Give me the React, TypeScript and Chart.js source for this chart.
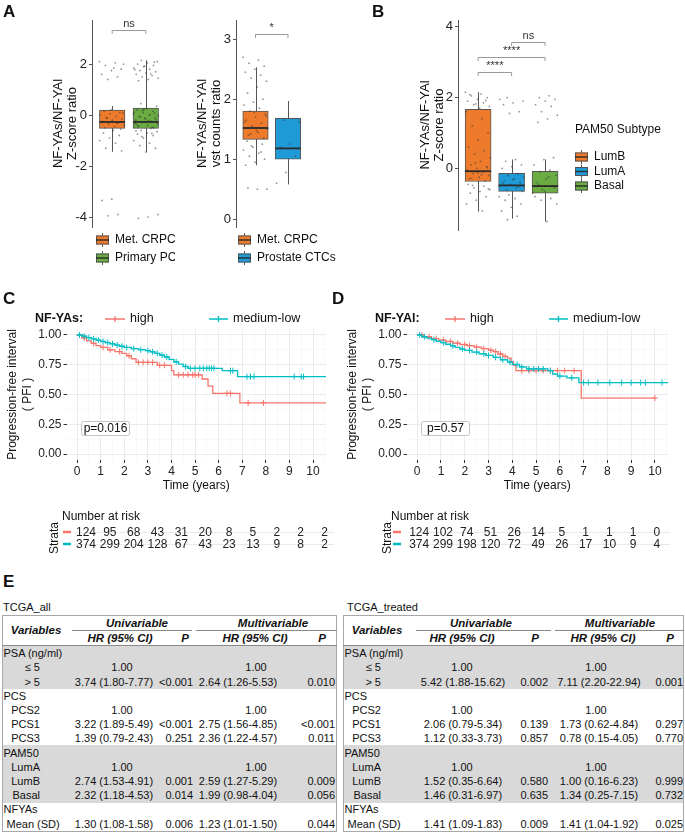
import React, { useEffect, useRef } from "react";
import { Chart, registerables } from "chart.js";

Chart.register(...registerables);

const FONT = "'Liberation Sans', Arial, Helvetica, sans-serif";
const ORANGE = "#EE7B2C";
const GREEN = "#6AAB42";
const BLUE = "#1E9BD7";
const KM_RED = "#F8766D";
const KM_CYAN = "#00BFC4";

// ---------------- Panel A (left): Z-score ratio ----------------
const A1_GROUPS = ["Met. CRPC", "Primary PC"];
const A1_LOW = [-1.44, -1.44];
const A1_Q1 = [-0.52, -0.52];
const A1_MED = [-0.27, -0.27];
const A1_Q3 = [0.2, 0.27];
const A1_HIGH = [0.35, 2.15];
const A1_TICKS = [-4, -2, 0, 2];
const A1_PTS_MET = [2.1, 2.05, 1.95, 1.8, 1.75, 1.6, 1.5, 1.4, 2.0, 1.85, 0.15, 0.1, 0.05, 0, -0.05, -0.1, -0.15, -0.2, -0.25, -0.3, -0.35, -0.4, -0.45, -0.5, -0.55, 0.2, -0.28, -0.33, -0.12, 0.08, -0.6, -0.7, -0.8, -0.9, -1.0, -1.1, -1.3, -1.4, -3.3, -3.35, -3.9, -3.95];
const A1_PTS_PRIM = [2.15, 2.1, 2.05, 2.0, 1.95, 1.9, 1.85, 1.8, 1.75, 1.7, 1.65, 1.6, 1.55, 1.5, 1.45, 1.4, 1.35, 2.08, 1.92, 1.78, 1.62, 0.45, 0.35, 0.25, 0.2, 0.15, 0.1, 0.05, 0, -0.05, -0.1, -0.15, -0.2, -0.25, -0.3, -0.35, -0.4, -0.45, -0.5, 0.22, 0.12, 0.02, -0.08, -0.18, -0.28, -0.38, -0.48, 0.18, -0.02, -0.22, -0.42, 0.08, -0.12, -0.32, -0.52, -0.6, -0.65, -0.7, -0.75, -0.8, -0.9, -1.0, -1.1, -1.2, -1.3, -1.45, -0.62, -0.72, -0.85, -3.9, -4.0, -4.05];

// ---------------- Panel A (right): vst counts ratio ----------------
const A2_GROUPS = ["Met. CRPC", "Prostate CTCs"];
const A2_LOW = [0.9, 0.58];
const A2_Q1 = [1.33, 1.0];
const A2_MED = [1.52, 1.18];
const A2_Q3 = [1.8, 1.68];
const A2_HIGH = [2.53, 1.97];
const A2_TICKS = [0, 1, 2, 3];
const A2_PTS_MET = [2.7, 2.65, 2.6, 2.55, 2.5, 2.45, 2.4, 2.35, 2.3, 2.2, 2.1, 2.0, 1.95, 1.9, 1.85, 1.8, 1.75, 1.7, 1.65, 1.6, 1.55, 1.5, 1.45, 1.4, 1.35, 1.78, 1.62, 1.52, 1.42, 1.72, 1.48, 1.3, 1.25, 1.2, 1.15, 1.1, 1.05, 1.0, 0.95, 0.9, 1.12, 1.22, 0.5, 0.5, 0.52];
const A2_PTS_CTC = [1.65, 1.62, 1.25, 1.2, 1.05, 0.78, 0.6];

// ---------------- Panel B: PAM50 subtype ----------------
const B_GROUPS = ["LumB", "LumA", "Basal"];
const B_LOW = [-1.22, -1.42, -1.5];
const B_Q1 = [-0.37, -0.65, -0.7];
const B_MED = [-0.08, -0.48, -0.5];
const B_Q3 = [1.67, -0.14, -0.08];
const B_HIGH = [2.15, 0.25, 0.25];
const B_TICKS = [0, 2, 4];
const B_PTS_LUMB = [2.15, 2.1, 2.05, 2.0, 1.95, 1.9, 1.85, 1.8, 1.75, 1.7, 2.08, 1.92, 1.82, 1.6, 1.4, 1.2, 1.0, 0.8, 0.6, 0.5, 0.4, 0.3, 0.2, 0.1, 0.05, 0, -0.05, -0.1, -0.15, -0.2, -0.25, -0.3, -0.35, 0.15, -0.08, -0.18, -0.28, 0.02, -0.12, -0.45, -0.5, -0.55, -0.6, -0.65, -0.7, -0.8, -0.9, -1.0, -1.2, -0.48, -0.58];
const B_PTS_LUMA = [2.0, 1.9, 1.85, 1.8, 1.6, 1.55, 1.95, 0.25, 0.2, 0.1, 0.05, 0, -0.15, -0.2, -0.25, -0.3, -0.35, -0.4, -0.45, -0.5, -0.55, -0.6, -0.65, -0.32, -0.42, -0.52, -0.75, -0.8, -0.85, -0.9, -1.0, -1.1, -1.2, -1.35, -1.45];
const B_PTS_BASAL = [2.05, 2.0, 1.95, 1.9, 1.8, 1.75, 1.6, 1.5, 1.4, 1.3, 0.3, 0.25, 0.1, -0.05, -0.1, -0.2, -0.3, -0.4, -0.5, -0.6, -0.7, -0.25, -0.45, -0.55, -0.65, -0.8, -0.85, -0.9, -1.0, -1.5];

// ---------------- Panels C / D: Kaplan-Meier ----------------
const KM_X_MAJOR = [0, 1, 2, 3, 4, 5, 6, 7, 8, 9, 10];
const KM_X_MINOR = [0.5, 1.5, 2.5, 3.5, 4.5, 5.5, 6.5, 7.5, 8.5, 9.5, 10.5];
const KM_Y_MAJOR = [0, 0.25, 0.5, 0.75, 1];
const KM_Y_MINOR = [0.125, 0.375, 0.625, 0.875];

const C_HIGH_T = [0, 0.2, 0.4, 0.6, 0.8, 1.0, 1.3, 1.6, 1.9, 2.1, 2.3, 2.5, 3.4, 4.0, 4.1, 5.3, 5.55, 5.75, 6.9, 10.55];
const C_HIGH_S = [1, 0.975, 0.95, 0.93, 0.91, 0.895, 0.875, 0.86, 0.845, 0.825, 0.8, 0.77, 0.745, 0.7, 0.665, 0.63, 0.57, 0.51, 0.43, 0.43];
const C_HIGH_CENS = [0.1, 0.3, 0.7, 1.1, 1.4, 1.8, 2.2, 2.6, 2.8, 3.0, 3.2, 3.5, 3.7, 4.3, 4.5, 4.7, 4.9, 5.0, 5.15, 6.35, 6.5, 7.25, 7.9];
const C_LOW_T = [0, 0.2, 0.4, 0.6, 0.8, 1.0, 1.2, 1.4, 1.6, 1.8, 2.0, 2.3, 2.6, 2.9, 3.1, 3.3, 3.5, 3.7, 3.9, 4.1, 4.3, 4.5, 4.7, 6.15, 6.8, 10.55];
const C_LOW_S = [1, 0.99, 0.978, 0.967, 0.956, 0.945, 0.935, 0.925, 0.915, 0.905, 0.895, 0.885, 0.876, 0.868, 0.858, 0.845, 0.83, 0.815, 0.795, 0.775, 0.755, 0.735, 0.72, 0.7, 0.65, 0.65];
const C_LOW_CENS = [0.1, 0.3, 0.5, 0.7, 0.9, 1.1, 1.3, 1.5, 1.7, 1.9, 2.1, 2.4, 2.7, 3.0, 3.2, 3.4, 3.6, 3.8, 4.2, 4.6, 4.8, 5.0, 5.2, 5.35, 5.5, 5.6, 5.7, 5.8, 6.5, 6.6, 7.2, 7.35, 7.5, 9.2, 9.5, 9.6];
const C_RISK_HIGH = [124, 95, 68, 43, 31, 20, 8, 5, 2, 2, 2];
const C_RISK_LOW = [374, 299, 204, 128, 67, 43, 23, 13, 9, 8, 2];
const C_PVAL = "p=0.016";

const D_HIGH_T = [0, 0.3, 0.6, 0.9, 1.2, 1.5, 1.8, 2.1, 2.4, 2.7, 3.0, 3.2, 3.4, 3.6, 3.8, 3.95, 4.05, 4.15, 6.9, 10.0];
const D_HIGH_S = [1, 0.985, 0.97, 0.957, 0.945, 0.932, 0.92, 0.91, 0.897, 0.885, 0.872, 0.86, 0.84, 0.82, 0.805, 0.775, 0.745, 0.7, 0.47, 0.47];
const D_HIGH_CENS = [0.2, 0.5, 0.8, 1.1, 1.4, 1.7, 2.0, 2.2, 2.5, 2.8, 3.1, 3.3, 3.5, 3.7, 4.4, 4.7, 5.0, 5.3, 5.6, 5.9, 6.2, 6.6, 10.0];
const D_LOW_T = [0, 0.2, 0.4, 0.6, 0.8, 1.0, 1.2, 1.4, 1.6, 1.8, 2.0, 2.3, 2.6, 2.9, 3.2, 3.5, 3.8, 4.0, 4.3, 4.6, 5.5, 5.7, 5.9, 6.3, 6.8, 10.55];
const D_LOW_S = [1, 0.985, 0.973, 0.96, 0.947, 0.935, 0.922, 0.908, 0.895, 0.882, 0.87, 0.856, 0.842, 0.828, 0.812, 0.792, 0.772, 0.752, 0.732, 0.715, 0.7, 0.672, 0.655, 0.64, 0.6, 0.6];
const D_LOW_CENS = [0.1, 0.3, 0.7, 1.1, 1.5, 1.9, 2.2, 2.5, 2.8, 3.0, 3.3, 3.6, 3.9, 4.2, 4.4, 4.7, 4.9, 5.1, 5.3, 5.6, 6.0, 6.5, 7.0, 7.2, 7.6, 8.1, 8.6, 9.0, 9.4, 9.6, 10.3];
const D_RISK_HIGH = [124, 102, 74, 51, 26, 14, 5, 1, 1, 1, 0];
const D_RISK_LOW = [374, 299, 198, 120, 72, 49, 26, 17, 10, 9, 4];
const D_PVAL = "p=0.57";

// ---------------- Panel E: tables ----------------
const TBL_LABELS = ["PSA (ng/ml)", "\u2264 5", "> 5", "PCS", "PCS2", "PCS1", "PCS3", "PAM50", "LumA", "LumB", "Basal", "NFYAs", "Mean (SD)"];
const TBL_KIND = ["g", "s", "s", "g", "s", "s", "s", "g", "s", "s", "s", "g", "m"];
const TBL_SHADE = [1, 1, 1, 0, 0, 0, 0, 1, 1, 1, 1, 0, 0];

const ALL_UNI_HR = ["", "1.00", "3.74 (1.80-7.77)", "", "1.00", "3.22 (1.89-5.49)", "1.39 (0.79-2.43)", "", "1.00", "2.74 (1.53-4.91)", "2.32 (1.18-4.53)", "", "1.30 (1.08-1.58)"];
const ALL_UNI_P = ["", "", "<0.001", "", "", "<0.001", "0.251", "", "", "0.001", "0.014", "", "0.006"];
const ALL_MULTI_HR = ["", "1.00", "2.64 (1.26-5.53)", "", "1.00", "2.75 (1.56-4.85)", "2.36 (1.22-4.57)", "", "1.00", "2.59 (1.27-5.29)", "1.99 (0.98-4.04)", "", "1.23 (1.01-1.50)"];
const ALL_MULTI_P = ["", "", "0.010", "", "", "<0.001", "0.011", "", "", "0.009", "0.056", "", "0.044"];

const TR_UNI_HR = ["", "1.00", "5.42 (1.88-15.62)", "", "1.00", "2.06 (0.79-5.34)", "1.12 (0.33-3.73)", "", "1.00", "1.52 (0.35-6.64)", "1.46 (0.31-6.97)", "", "1.41 (1.09-1.83)"];
const TR_UNI_P = ["", "", "0.002", "", "", "0.139", "0.857", "", "", "0.580", "0.635", "", "0.009"];
const TR_MULTI_HR = ["", "1.00", "7.11 (2.20-22.94)", "", "1.00", "1.73 (0.62-4.84)", "0.78 (0.15-4.05)", "", "1.00", "1.00 (0.16-6.23)", "1.34 (0.25-7.15)", "", "1.41 (1.04-1.92)"];
const TR_MULTI_P = ["", "", "0.001", "", "", "0.297", "0.770", "", "", "0.999", "0.732", "", "0.025"];

// ===================================================================
function jit(i: number) {
  return (((i * 0.6180339887) % 1) - 0.5) * 0.76;
}

function buildBox(canvas: HTMLCanvasElement, cfg: any) {
  const n = cfg.groups.length;
  const pts: any[] = [];
  cfg.points.forEach((arr: number[], g: number) =>
    arr.forEach((v, i) => pts.push({ x: g + 1 + jit(i + g * 7), y: v }))
  );
  const extras = {
    id: "boxExtras",
    beforeDatasetDraw(chart: any, args: any) {
      if (args.index !== 0) return;
      const { ctx } = chart;
      const x = chart.scales.x, y = chart.scales.y;
      ctx.save();
      ctx.strokeStyle = "#555";
      ctx.lineWidth = 1;
      for (let i = 0; i < n; i++) {
        const px = Math.round(x.getPixelForValue(i + 1)) + 0.5;
        ctx.beginPath();
        ctx.moveTo(px, y.getPixelForValue(cfg.low[i]));
        ctx.lineTo(px, y.getPixelForValue(cfg.high[i]));
        ctx.stroke();
      }
      ctx.restore();
    },
    afterDatasetDraw(chart: any, args: any) {
      if (args.index !== 0) return;
      const { ctx } = chart;
      const x = chart.scales.x, y = chart.scales.y;
      ctx.save();
      ctx.strokeStyle = "#2a2a2a";
      ctx.lineWidth = 1.8;
      for (let i = 0; i < n; i++) {
        const px = x.getPixelForValue(i + 1);
        const py = y.getPixelForValue(cfg.med[i]);
        ctx.beginPath();
        ctx.moveTo(px - cfg.boxWidth / 2, py);
        ctx.lineTo(px + cfg.boxWidth / 2, py);
        ctx.stroke();
      }
      ctx.restore();
    },
    afterDraw(chart: any) {
      const { ctx } = chart;
      const x = chart.scales.x, y = chart.scales.y;
      ctx.save();
      cfg.brackets.forEach((b: any) => {
        const x1 = x.getPixelForValue(b.from);
        const x2 = x.getPixelForValue(b.to);
        const py = Math.round(y.getPixelForValue(b.y)) + 0.5;
        ctx.strokeStyle = "#9a9a9a";
        ctx.lineWidth = 1;
        ctx.beginPath();
        ctx.moveTo(x1, py + 3.5);
        ctx.lineTo(x1, py);
        ctx.lineTo(x2, py);
        ctx.lineTo(x2, py + 3.5);
        ctx.stroke();
        ctx.fillStyle = "#333";
        ctx.font = `11px ${FONT}`;
        ctx.textAlign = "center";
        ctx.textBaseline = "bottom";
        ctx.fillText(b.label, (x1 + x2) / 2, py - 1);
      });
      const L = cfg.legend;
      ctx.textAlign = "left";
      ctx.textBaseline = "middle";
      if (L.title) {
        ctx.fillStyle = "#111";
        ctx.font = `12px ${FONT}`;
        ctx.fillText(L.title, L.x, L.titleY);
      }
      cfg.groups.forEach((g: string, i: number) => {
        const cy = L.y + i * L.dy;
        const kx = L.x, kw = 13, kh = 9;
        ctx.strokeStyle = "#555";
        ctx.lineWidth = 1;
        ctx.beginPath();
        ctx.moveTo(kx + kw / 2, cy - kh / 2 - 2.5);
        ctx.lineTo(kx + kw / 2, cy + kh / 2 + 2.5);
        ctx.stroke();
        ctx.fillStyle = cfg.colors[i];
        ctx.fillRect(kx, cy - kh / 2, kw, kh);
        ctx.strokeRect(kx + 0.5, cy - kh / 2 + 0.5, kw - 1, kh - 1);
        ctx.strokeStyle = "#2a2a2a";
        ctx.lineWidth = 1.4;
        ctx.beginPath();
        ctx.moveTo(kx, cy);
        ctx.lineTo(kx + kw, cy);
        ctx.stroke();
        ctx.fillStyle = "#111";
        ctx.font = `12px ${FONT}`;
        ctx.fillText(g, kx + kw + 6, cy);
      });
      ctx.restore();
    },
  };

  return new Chart(canvas, {
    type: "bar",
    data: {
      datasets: [
        {
          type: "bar",
          data: cfg.q1.map((q: number, i: number) => ({ x: i + 1, y: [q, cfg.q3[i]] })),
          backgroundColor: cfg.colors,
          borderColor: "#555",
          borderWidth: 1,
          borderSkipped: false,
          barThickness: cfg.boxWidth,
          order: 2,
        } as any,
        {
          type: "scatter",
          data: pts,
          pointRadius: 0.9,
          pointBackgroundColor: "rgba(45,45,45,0.5)",
          pointBorderWidth: 0,
          order: 1,
        } as any,
      ],
    },
    options: {
      animation: false,
      responsive: false,
      layout: { padding: { left: cfg.padLeft, top: cfg.padTop, right: cfg.padRight, bottom: cfg.padBottom } },
      plugins: { legend: { display: false }, tooltip: { enabled: false } },
      scales: {
        x: { type: "linear", min: 0.4, max: n + 0.6, display: false, offset: false },
        y: {
          type: "linear",
          min: cfg.yMin,
          max: cfg.yMax,
          afterBuildTicks: (s: any) => {
            s.ticks = cfg.ticks.map((v: number) => ({ value: v }));
          },
          afterFit: (s: any) => {
            s.width = cfg.scaleWidth;
          },
          border: { display: true, color: "#555", width: 1 },
          grid: { display: true, drawOnChartArea: false, drawTicks: true, tickLength: 3, color: "#555" },
          ticks: { font: { family: FONT, size: 13 }, color: "#222", padding: 2 },
          title: {
            display: true,
            text: cfg.title,
            font: { family: FONT, size: 13, lineHeight: 1.1 },
            color: "#111",
            padding: { top: 0, bottom: 0 },
          },
        },
      },
    } as any,
    plugins: [extras],
  });
}

function survAt(ts: number[], ss: number[], t: number) {
  let v = ss[0];
  for (let i = 0; i < ts.length; i++) if (ts[i] <= t) v = ss[i];
  return v;
}

function buildKM(canvas: HTMLCanvasElement, cfg: any) {
  const xTicks = [...KM_X_MAJOR, ...KM_X_MINOR].sort((a, b) => a - b);
  const yTicks = [...KM_Y_MAJOR, ...KM_Y_MINOR].sort((a, b) => a - b);
  const isMajX = (v: number) => KM_X_MAJOR.includes(v);
  const isMajY = (v: number) => KM_Y_MAJOR.includes(v);

  const extras = {
    id: "kmExtras",
    afterDraw(chart: any) {
      const { ctx, chartArea } = chart;
      const x = chart.scales.x, y = chart.scales.y;
      ctx.save();
      const ly = 19;
      ctx.textBaseline = "middle";
      ctx.textAlign = "left";
      ctx.fillStyle = "#111";
      ctx.font = `bold 12.5px ${FONT}`;
      ctx.fillText(cfg.groupLabel, 35, ly);
      const item = (x1: number, x2: number, col: string, label: string, tx: number) => {
        ctx.strokeStyle = col;
        ctx.lineWidth = 1.3;
        ctx.beginPath();
        ctx.moveTo(x1, ly);
        ctx.lineTo(x2, ly);
        ctx.moveTo((x1 + x2) / 2, ly - 3);
        ctx.lineTo((x1 + x2) / 2, ly + 3);
        ctx.stroke();
        ctx.fillStyle = "#111";
        ctx.font = `12.5px ${FONT}`;
        ctx.fillText(label, tx, ly);
      };
      item(105, 125, KM_RED, "high", 130);
      item(209, 228, KM_CYAN, "medium-low", 233);

      const bx = Math.round(x.getPixelForValue(cfg.pPos[0])) + 0.5;
      const by = Math.round(y.getPixelForValue(cfg.pPos[1])) + 0.5;
      ctx.fillStyle = "#fff";
      ctx.strokeStyle = "#c4c4c4";
      ctx.lineWidth = 1;
      ctx.beginPath();
      (ctx as any).roundRect(bx, by - 7, 48, 14, 2);
      ctx.fill();
      ctx.stroke();
      ctx.fillStyle = "#111";
      ctx.font = `12px ${FONT}`;
      ctx.textAlign = "center";
      ctx.fillText(cfg.pval, bx + 24, by + 0.5);

      ctx.textAlign = "left";
      ctx.font = `12px ${FONT}`;
      ctx.fillStyle = "#111";
      ctx.fillText("Number at risk", cfg.tableX, 217);
      const rows = [
        { vals: cfg.riskHigh, col: KM_RED, y: 232 },
        { vals: cfg.riskLow, col: KM_CYAN, y: 244 },
      ];
      rows.forEach((r) => {
        ctx.strokeStyle = "#e9e9e9";
        ctx.lineWidth = 1;
        ctx.beginPath();
        ctx.moveTo(chartArea.left + cfg.riskShift, r.y + 0.5);
        ctx.lineTo(chartArea.right + cfg.riskShift, r.y + 0.5);
        ctx.stroke();
        ctx.strokeStyle = r.col;
        ctx.lineWidth = 2.5;
        ctx.beginPath();
        ctx.moveTo(cfg.dashX, r.y);
        ctx.lineTo(cfg.dashX + 8, r.y);
        ctx.stroke();
        ctx.fillStyle = "#222";
        ctx.textAlign = "center";
        r.vals.forEach((v: number, i: number) => {
          ctx.fillText(String(v), x.getPixelForValue(KM_X_MAJOR[i]) * cfg.riskScale + cfg.riskShift, r.y + 0.5);
        });
      });
      ctx.save();
      ctx.translate(cfg.strataX, 238);
      ctx.rotate(-Math.PI / 2);
      ctx.textAlign = "center";
      ctx.fillStyle = "#111";
      ctx.fillText("Strata", 0, 0);
      ctx.restore();
      ctx.restore();
    },
  };

  const line = (ts: number[], ss: number[], col: string, order: number) => ({
    type: "line",
    data: ts.map((t, i) => ({ x: t, y: ss[i] })),
    stepped: "before",
    borderColor: col,
    borderWidth: 1.3,
    pointRadius: 0,
    fill: false,
    order,
  });
  const cens = (c: number[], ts: number[], ss: number[], col: string, order: number) => ({
    type: "scatter",
    data: c.map((t) => ({ x: t, y: survAt(ts, ss, t) })),
    pointStyle: "cross",
    pointRadius: 3,
    pointBorderColor: col,
    pointBorderWidth: 1,
    order,
  });

  return new Chart(canvas, {
    type: "line",
    data: {
      datasets: [
        line(cfg.highT, cfg.highS, KM_RED, 4),
        cens(cfg.highC, cfg.highT, cfg.highS, KM_RED, 3),
        line(cfg.lowT, cfg.lowS, KM_CYAN, 2),
        cens(cfg.lowC, cfg.lowT, cfg.lowS, KM_CYAN, 1),
      ] as any,
    },
    options: {
      animation: false,
      responsive: false,
      layout: { padding: { left: 5, top: 29, right: cfg.padRight, bottom: 67 } },
      plugins: { legend: { display: false }, tooltip: { enabled: false } },
      scales: {
        x: {
          type: "linear",
          min: -0.45,
          max: 10.55,
          afterBuildTicks: (s: any) => {
            s.ticks = xTicks.map((v) => ({ value: v }));
          },
          afterFit: (s: any) => {
            s.height = 33;
          },
          border: { display: false },
          grid: {
            color: (c: any) => (c.tick && isMajX(c.tick.value) ? "#ebebeb" : "#f5f5f5"),
            lineWidth: (c: any) => (c.tick && isMajX(c.tick.value) ? 1 : 0.7),
            tickColor: (c: any) => (c.tick && isMajX(c.tick.value) ? "#333" : "rgba(0,0,0,0)"),
            drawTicks: true,
            tickLength: 3,
          },
          ticks: {
            autoSkip: false,
            maxRotation: 0,
            padding: 1,
            font: { family: FONT, size: 12 },
            color: "#222",
            callback: (v: any) => (isMajX(Number(v)) ? String(v) : ""),
          },
          title: {
            display: true,
            text: "Time (years)",
            font: { family: FONT, size: 12, lineHeight: 1.25 },
            color: "#111",
            padding: { top: 0, bottom: 0 },
          },
        },
        y: {
          type: "linear",
          min: -0.05,
          max: 1.05,
          afterBuildTicks: (s: any) => {
            s.ticks = yTicks.map((v) => ({ value: v }));
          },
          afterFit: (s: any) => {
            s.width = 61.5;
          },
          border: { display: false },
          grid: {
            color: (c: any) => (c.tick && isMajY(c.tick.value) ? "#ebebeb" : "#f5f5f5"),
            lineWidth: (c: any) => (c.tick && isMajY(c.tick.value) ? 1 : 0.7),
            tickColor: (c: any) => (c.tick && isMajY(c.tick.value) ? "#333" : "rgba(0,0,0,0)"),
            drawTicks: true,
            tickLength: 3,
          },
          ticks: {
            autoSkip: false,
            padding: 2,
            font: { family: FONT, size: 12 },
            color: "#222",
            callback: (v: any) => (isMajY(Number(v)) ? Number(v).toFixed(2) : ""),
          },
          title: {
            display: true,
            text: ["Progression-free interval", "( PFI )"],
            font: { family: FONT, size: 12, lineHeight: 1.25 },
            color: "#111",
            padding: { top: 0, bottom: 0 },
          },
        },
      },
    } as any,
    plugins: [extras],
  });
}

function ChartCanvas(props: { left: number; top: number; width: number; height: number; build: (c: HTMLCanvasElement) => any }) {
  const ref = useRef<HTMLCanvasElement>(null);
  useEffect(() => {
    const chart = props.build(ref.current as HTMLCanvasElement);
    return () => chart.destroy();
  }, []);
  return (
    <canvas
      ref={ref}
      width={props.width}
      height={props.height}
      style={{ position: "absolute", left: props.left, top: props.top, width: props.width, height: props.height }}
    />
  );
}

function T(props: { x: number; y: number; align?: string; style?: any; children?: any }) {
  const w = 300;
  const align = props.align || "left";
  let left = props.x;
  if (align === "right") left = props.x - w;
  if (align === "center") left = props.x - w / 2;
  return (
    <div
      style={{
        position: "absolute",
        left,
        top: props.y - 7,
        width: w,
        height: 14,
        lineHeight: "14px",
        textAlign: align as any,
        whiteSpace: "nowrap",
        ...(props.style || {}),
      }}
    >
      {props.children}
    </div>
  );
}

const ROW_TOP = 646;
const ROW_H = 14.2;

function TableE(props: { g: any; uniHR: string[]; uniP: string[]; multiHR: string[]; multiP: string[] }) {
  const g = props.g;
  const hdr = { fontWeight: "bold", fontStyle: "italic", fontSize: 11.5 };
  const bottom = ROW_TOP + TBL_LABELS.length * ROW_H;
  return (
    <div>
      <T x={g.titleX} y={607}>{g.title}</T>
      {TBL_LABELS.map((lab, i) =>
        TBL_SHADE[i] ? (
          <div
            key={"sh" + i}
            style={{ position: "absolute", left: g.left, top: ROW_TOP + i * ROW_H, width: g.right - g.left, height: ROW_H + 0.5, background: "#d9d9d9" }}
          />
        ) : null
      )}
      <div style={{ position: "absolute", left: g.left, top: 615, width: g.right - g.left - 2, height: bottom - 615 - 1, border: "1px solid #a8a8a8" }} />
      <div style={{ position: "absolute", left: g.left, top: 645, width: g.right - g.left, height: 1, background: "#8a8a8a" }} />
      <div style={{ position: "absolute", left: g.uniLine[0], top: 630, width: g.uniLine[1] - g.uniLine[0], height: 1, background: "#8a8a8a" }} />
      <div style={{ position: "absolute", left: g.multiLine[0], top: 630, width: g.multiLine[1] - g.multiLine[0], height: 1, background: "#8a8a8a" }} />
      <T x={g.varC} y={630} align="center" style={hdr}>Variables</T>
      <T x={g.uniC} y={622.5} align="center" style={hdr}>Univariable</T>
      <T x={g.multiC} y={622.5} align="center" style={hdr}>Multivariable</T>
      <T x={g.uniHRh} y={638} align="center" style={hdr}>HR (95% CI)</T>
      <T x={g.uniPh} y={638} align="center" style={hdr}>P</T>
      <T x={g.multiHRh} y={638} align="center" style={hdr}>HR (95% CI)</T>
      <T x={g.multiPh} y={638} align="center" style={hdr}>P</T>
      {TBL_LABELS.map((lab, i) => {
        const cy = ROW_TOP + i * ROW_H + ROW_H / 2;
        const kind = TBL_KIND[i];
        const lx = kind === "g" ? g.left + 1.5 : kind === "m" ? g.left + 4.5 : g.left + 38;
        const la = kind === "s" ? "right" : "left";
        const u = props.uniHR[i], m = props.multiHR[i];
        return (
          <React.Fragment key={"r" + i}>
            <T x={lx} y={cy} align={la}>{lab}</T>
            {u ? <T x={u === "1.00" ? g.uni1 : g.uniV} y={cy} align="center">{u}</T> : null}
            {props.uniP[i] ? <T x={g.uniPend} y={cy} align="right">{props.uniP[i]}</T> : null}
            {m ? <T x={m === "1.00" ? g.multi1 : g.multiV} y={cy} align="center">{m}</T> : null}
            {props.multiP[i] ? <T x={g.multiPend} y={cy} align="right">{props.multiP[i]}</T> : null}
          </React.Fragment>
        );
      })}
    </div>
  );
}

const GEO_ALL = {
  title: "TCGA_all", titleX: 3, left: 2, right: 337,
  varC: 36, uniC: 137, multiC: 273, uniHRh: 120, uniPh: 185, multiHRh: 255, multiPh: 322,
  uniV: 114, uni1: 122, uniPend: 193, multiV: 238, multi1: 256, multiPend: 335,
  uniLine: [72, 192], multiLine: [196, 337],
};
const GEO_TR = {
  title: "TCGA_treated", titleX: 347, left: 343, right: 684,
  varC: 377, uniC: 481, multiC: 620, uniHRh: 462, uniPh: 535, multiHRh: 603, multiPh: 670,
  uniV: 463, uni1: 462, uniPend: 548, multiV: 599, multi1: 596, multiPend: 683,
  uniLine: [416, 551], multiLine: [555, 684],
};

const letter = (ch: string, left: number, top: number) => (
  <div style={{ position: "absolute", left, top, fontSize: 17, fontWeight: "bold", lineHeight: "17px" }}>{ch}</div>
);

export default function App() {
  return (
    <div
      style={{
        position: "absolute",
        left: 0,
        top: 0,
        width: 685,
        height: 833,
        background: "#fff",
        overflow: "hidden",
        fontFamily: FONT,
        fontSize: 11,
        color: "#111",
      }}
    >
      <ChartCanvas
        left={0} top={0} width={175} height={290}
        build={(c) =>
          buildBox(c, {
            groups: A1_GROUPS, colors: [ORANGE, GREEN], low: A1_LOW, q1: A1_Q1, med: A1_MED, q3: A1_Q3, high: A1_HIGH,
            points: [A1_PTS_MET, A1_PTS_PRIM], ticks: A1_TICKS, yMin: -4.39, yMax: 3.73,
            title: ["NF-YAs/NF-YAl", "Z-score ratio"],
            padLeft: 51, scaleWidth: 41, padTop: 20, padBottom: 63, padRight: 9, boxWidth: 25.5,
            brackets: [{ from: 1, to: 2, y: 3.33, label: "ns" }],
            legend: { x: 96, y: 240, dy: 18 },
          })
        }
      />
      <ChartCanvas
        left={175} top={0} width={200} height={290}
        build={(c) =>
          buildBox(c, {
            groups: A2_GROUPS, colors: [ORANGE, BLUE], low: A2_LOW, q1: A2_Q1, med: A2_MED, q3: A2_Q3, high: A2_HIGH,
            points: [A2_PTS_MET, A2_PTS_CTC], ticks: A2_TICKS, yMin: -0.13, yMax: 3.32,
            title: ["NF-YAs/NF-YAl", "vst counts ratio"],
            padLeft: 20, scaleWidth: 41, padTop: 20, padBottom: 63, padRight: 67.5, boxWidth: 25.5,
            brackets: [{ from: 1, to: 2, y: 3.08, label: "*" }],
            legend: { x: 63, y: 240, dy: 18 },
          })
        }
      />
      <ChartCanvas
        left={375} top={0} width={310} height={290}
        build={(c) =>
          buildBox(c, {
            groups: B_GROUPS, colors: [ORANGE, BLUE, GREEN], low: B_LOW, q1: B_Q1, med: B_MED, q3: B_Q3, high: B_HIGH,
            points: [B_PTS_LUMB, B_PTS_LUMA, B_PTS_BASAL], ticks: B_TICKS, yMin: -1.74, yMax: 4.19,
            title: ["NF-YAs/NF-YAl", "Z-score ratio"],
            padLeft: 43, scaleWidth: 40, padTop: 20, padBottom: 60, padRight: 119.8, boxWidth: 26,
            brackets: [
              { from: 2, to: 3, y: 3.58, label: "ns" },
              { from: 1, to: 3, y: 3.15, label: "****" },
              { from: 1, to: 2, y: 2.73, label: "****" },
            ],
            legend: { x: 200, y: 157, dy: 14.5, title: "PAM50 Subtype", titleY: 130 },
          })
        }
      />
      <ChartCanvas
        left={0} top={300} width={340} height={260}
        build={(c) =>
          buildKM(c, {
            groupLabel: "NF-YAs:", highT: C_HIGH_T, highS: C_HIGH_S, highC: C_HIGH_CENS,
            lowT: C_LOW_T, lowS: C_LOW_S, lowC: C_LOW_CENS, riskHigh: C_RISK_HIGH, riskLow: C_RISK_LOW,
            pval: C_PVAL, pPos: [0.17, 0.216], padRight: 14, tableX: 62, dashX: 63, strataX: 55,
            riskShift: 8, riskScale: 1.011,
          })
        }
      />
      <ChartCanvas
        left={340} top={300} width={340} height={260}
        build={(c) =>
          buildKM(c, {
            groupLabel: "NF-YAl:", highT: D_HIGH_T, highS: D_HIGH_S, highC: D_HIGH_CENS,
            lowT: D_LOW_T, lowS: D_LOW_S, lowC: D_LOW_CENS, riskHigh: D_RISK_HIGH, riskLow: D_RISK_LOW,
            pval: D_PVAL, pPos: [0.17, 0.216], padRight: 12, tableX: 51, dashX: 53, strataX: 48,
            riskShift: 2, riskScale: 1,
          })
        }
      />
      {letter("A", 3, 3)}
      {letter("B", 372, 3)}
      {letter("C", 3, 290)}
      {letter("D", 332, 290)}
      {letter("E", 3, 573)}
      <TableE g={GEO_ALL} uniHR={ALL_UNI_HR} uniP={ALL_UNI_P} multiHR={ALL_MULTI_HR} multiP={ALL_MULTI_P} />
      <TableE g={GEO_TR} uniHR={TR_UNI_HR} uniP={TR_UNI_P} multiHR={TR_MULTI_HR} multiP={TR_MULTI_P} />
    </div>
  );
}
